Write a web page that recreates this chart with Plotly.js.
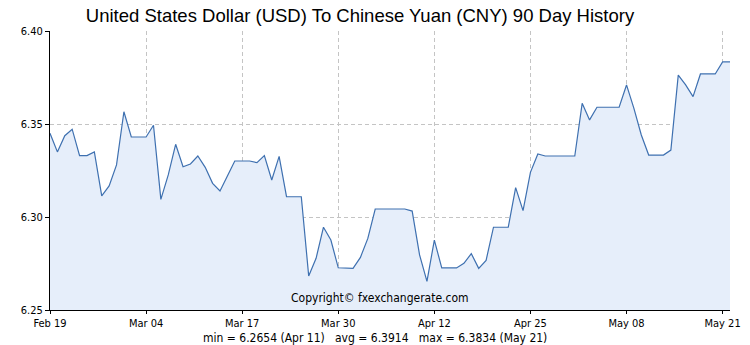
<!DOCTYPE html>
<html>
<head>
<meta charset="utf-8">
<script src="https://cdn.plot.ly/plotly-3.0.1.min.js"></script>
<style>html,body{margin:0;padding:0;background:#fff;}#chart{width:750px;height:345px;}</style>
</head>
<body>
<div id="chart"></div>
<script>
// Daily dates (year assumed; non-leap)
const dates = [
"2019-02-19","2019-02-20","2019-02-21","2019-02-22","2019-02-23","2019-02-24","2019-02-25","2019-02-26","2019-02-27","2019-02-28",
"2019-03-01","2019-03-02","2019-03-03","2019-03-04","2019-03-05","2019-03-06","2019-03-07","2019-03-08","2019-03-09","2019-03-10",
"2019-03-11","2019-03-12","2019-03-13","2019-03-14","2019-03-15","2019-03-16","2019-03-17","2019-03-18","2019-03-19","2019-03-20",
"2019-03-21","2019-03-22","2019-03-23","2019-03-24","2019-03-25","2019-03-26","2019-03-27","2019-03-28","2019-03-29","2019-03-30",
"2019-03-31","2019-04-01","2019-04-02","2019-04-03","2019-04-04","2019-04-05","2019-04-06","2019-04-07","2019-04-08","2019-04-09",
"2019-04-10","2019-04-11","2019-04-12","2019-04-13","2019-04-14","2019-04-15","2019-04-16","2019-04-17","2019-04-18","2019-04-19",
"2019-04-20","2019-04-21","2019-04-22","2019-04-23","2019-04-24","2019-04-25","2019-04-26","2019-04-27","2019-04-28","2019-04-29",
"2019-04-30","2019-05-01","2019-05-02","2019-05-03","2019-05-04","2019-05-05","2019-05-06","2019-05-07","2019-05-08","2019-05-09",
"2019-05-10","2019-05-11","2019-05-12","2019-05-13","2019-05-14","2019-05-15","2019-05-16","2019-05-17","2019-05-18","2019-05-19",
"2019-05-20","2019-05-21","2019-05-22"
];

// USD -> CNY rate
const rates = [
6.3450,6.3350,6.3437,6.3472,6.3330,6.3330,6.3350,6.3114,6.3167,6.3280,
6.3566,6.3430,6.3430,6.3430,6.3493,6.3095,6.3226,6.3391,6.3270,6.3285,
6.3328,6.3267,6.3181,6.3140,6.3220,6.3301,6.3301,6.3301,6.3292,6.3330,
6.3199,6.3326,6.3109,6.3109,6.3109,6.2683,6.2778,6.2945,6.2876,6.2727,
6.2724,6.2724,6.2783,6.2885,6.3043,6.3043,6.3043,6.3043,6.3043,6.3032,
6.2796,6.2654,6.2876,6.2726,6.2726,6.2726,6.2751,6.2803,6.2724,6.2767,
6.2945,6.2945,6.2945,6.3158,6.3034,6.3240,6.3339,6.3328,6.3328,6.3328,
6.3328,6.3328,6.3611,6.3522,6.3590,6.3590,6.3590,6.3590,6.3710,6.3584,
6.3441,6.3333,6.3333,6.3333,6.3360,6.3763,6.3710,6.3647,6.3769,6.3769,
6.3769,6.3834,6.3834
];

const xTickVals = ["2019-02-19","2019-03-04","2019-03-17","2019-03-30","2019-04-12","2019-04-25","2019-05-08","2019-05-21"];
const xTickText = ["Feb 19","Mar 04","Mar 17","Mar 30","Apr 12","Apr 25","May 08","May 21"];
const yTickVals = [6.25, 6.30, 6.35, 6.40];
const yTickText = ["6.25","6.30","6.35","6.40"];

const titleText = "United States Dollar (USD) To Chinese Yuan (CNY) 90 Day History";
const copyrightText = "Copyright© fxexchangerate.com";
const statsText = "min = 6.2654 (Apr 11)&nbsp;&nbsp;&nbsp;avg = 6.3914&nbsp;&nbsp;&nbsp;max = 6.3834 (May 21)";

const narrow = "DejaVu Sans Condensed, Liberation Sans Narrow, sans-serif";

const trace = {
  x: dates, y: rates, type: "scatter", mode: "lines",
  line: {color: "rgb(62,112,176)", width: 1.2},
  fill: "tozeroy", fillcolor: "rgb(230,238,250)",
  hoverinfo: "skip"
};

const layout = {
  width: 750, height: 345,
  margin: {l: 50, r: 20, t: 31, b: 35, pad: 0},
  paper_bgcolor: "#ffffff", plot_bgcolor: "#ffffff",
  showlegend: false,
  title: {text: titleText, x: 0.48, xanchor: "center", xref: "container", y: 0.955, yref: "container", yanchor: "middle",
          font: {family: "Liberation Sans, Arial, sans-serif", size: 18.5, color: "#000"}},
  xaxis: {
    type: "date", range: ["2019-02-19", "2019-05-22"],
    tickmode: "array", tickvals: xTickVals, ticktext: xTickText,
    showline: true, linecolor: "#000", linewidth: 1,
    ticks: "outside", ticklen: 3, tickcolor: "#000",
    showgrid: true, gridcolor: "#c4c4c4", griddash: "4px,3px", gridwidth: 1,
    zeroline: false,
    tickfont: {family: narrow, size: 11, color: "#000"}
  },
  yaxis: {
    range: [6.25, 6.40],
    tickmode: "array", tickvals: yTickVals, ticktext: yTickText,
    showline: true, linecolor: "#000", linewidth: 1,
    ticks: "outside", ticklen: 4, tickcolor: "#000",
    showgrid: true, gridcolor: "#c4c4c4", griddash: "4px,3px", gridwidth: 1,
    zeroline: false,
    tickfont: {family: narrow, size: 11, color: "#000"}
  },
  annotations: [
    {text: copyrightText, xref: "paper", yref: "paper", x: 0.485, y: 0.043, xanchor: "center", yanchor: "middle",
     showarrow: false, font: {family: narrow, size: 12, color: "#000"}},
    {text: statsText, xref: "paper", yref: "paper", x: 0.478, y: -(337.5 - 310) / 279, xanchor: "center", yanchor: "middle",
     showarrow: false, font: {family: narrow, size: 12, color: "#000"}}
  ]
};

Plotly.newPlot("chart", [trace], layout, {staticPlot: true, displayModeBar: false});
</script>
</body>
</html>
